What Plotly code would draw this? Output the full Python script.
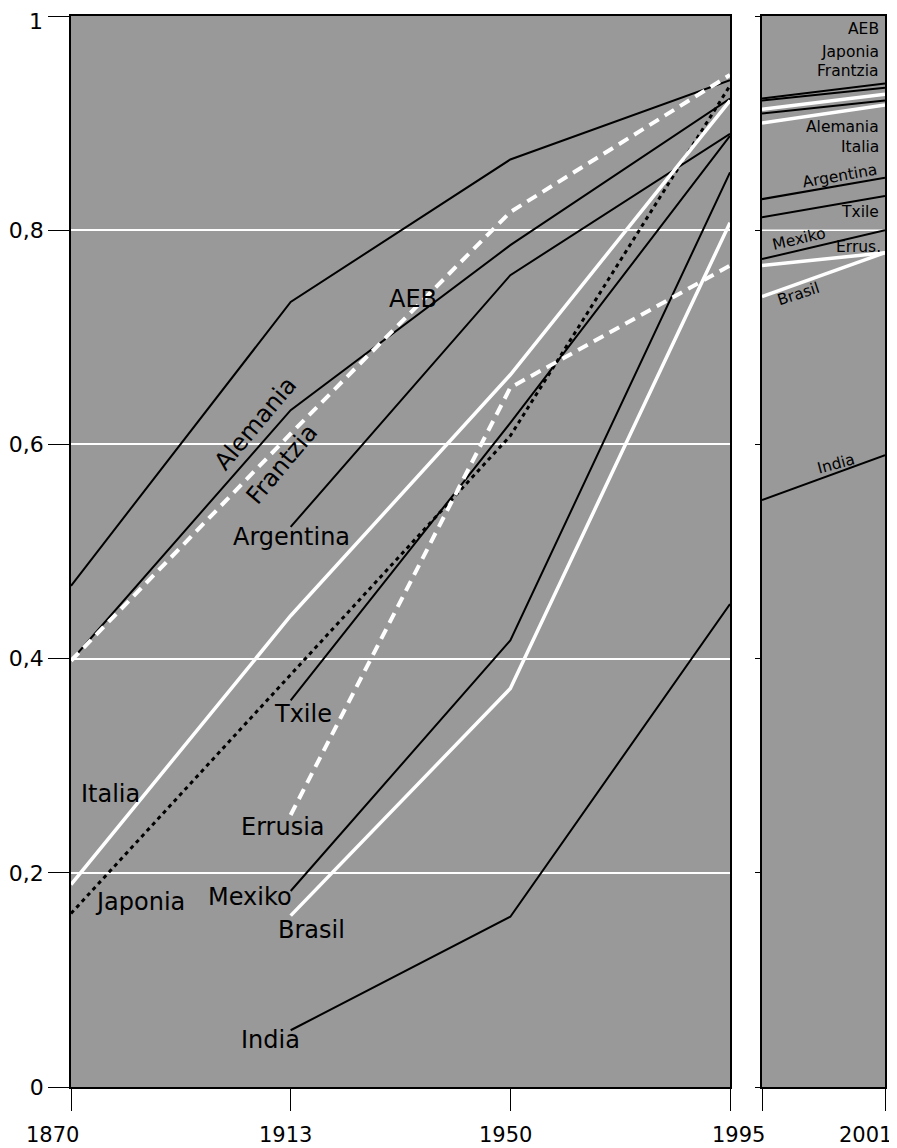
import plotly.graph_objects as go

# ---- data ----
years_left = ["1870", "1913", "1950", "1995"]
years_right = [1995, 2001]

aeb = [0.468, 0.733, 0.866, 0.940]
alemania = [0.398, 0.632, 0.786, 0.923]
frantzia = [0.398, 0.610, 0.817, 0.945]
italia = [0.189, 0.440, 0.665, 0.921]
japonia = [0.162, 0.385, 0.608, 0.935]
argentina = [None, 0.523, 0.758, 0.890]
txile = [None, 0.361, 0.620, 0.888]
errusia = [None, 0.254, 0.653, 0.767]
mexiko = [None, 0.183, 0.417, 0.854]
brasil = [None, 0.160, 0.372, 0.807]
india = [None, 0.053, 0.159, 0.451]

aeb_r = [0.923, 0.937]
japonia_r = [0.921, 0.933]
frantzia_r = [0.913, 0.927]
alemania_r = [0.909, 0.921]
italia_r = [0.900, 0.917]
argentina_r = [0.829, 0.849]
txile_r = [0.812, 0.832]
mexiko_r = [0.773, 0.800]
errusia_r = [0.767, 0.779]
brasil_r = [0.738, 0.779]
india_r = [0.548, 0.590]

y_tickvals = [0, 0.2, 0.4, 0.6, 0.8, 1]
y_ticktext = ["0", "0,2", "0,4", "0,6", "0,8", ""]
y_top_label = "1"

BG = "#999999"
FONT = "DejaVu Sans"

fig = go.Figure()

black = dict(color="black", width=2)
white = dict(color="white", width=3.5)
white_dash = dict(color="white", width=4, dash="11px,7px")
black_dot = dict(color="black", width=3, dash="4px,4px")

left_series = [
    (aeb, black), (alemania, black), (argentina, black), (txile, black),
    (mexiko, black), (india, black), (japonia, black_dot),
    (italia, white), (brasil, white), (frantzia, white_dash), (errusia, white_dash),
]
for vals, ln in left_series:
    xs = [x for x, v in zip(years_left, vals) if v is not None]
    ys = [v for v in vals if v is not None]
    fig.add_trace(go.Scatter(x=xs, y=ys, mode="lines", line=ln,
                             xaxis="x", yaxis="y", showlegend=False, hoverinfo="skip"))

right_series = [
    (aeb_r, "black", 2), (japonia_r, "black", 2), (alemania_r, "black", 2),
    (argentina_r, "black", 2), (txile_r, "black", 2), (mexiko_r, "black", 2),
    (india_r, "black", 2),
    (frantzia_r, "white", 3.5), (italia_r, "white", 3.5),
    (errusia_r, "white", 3.5), (brasil_r, "white", 3.5),
]
for vals, c, w in right_series:
    fig.add_trace(go.Scatter(x=years_right, y=vals, mode="lines",
                             line=dict(color=c, width=w),
                             xaxis="x2", yaxis="y2", showlegend=False, hoverinfo="skip"))

ann = []
def lab(text, x, y, ref="", size=24, angle=0, xanchor="center"):
    ann.append(dict(text=text, x=x, y=y, xref="x" + ref, yref="y" + ref,
                    showarrow=False, textangle=angle, xanchor=xanchor, yanchor="middle",
                    font=dict(family=FONT, size=size, color="black")))

lab("AEB", 1.557, 0.736)
lab("Alemania", 0.842, 0.620, angle=-50)
lab("Frantzia", 0.96, 0.582, angle=-50)
lab("Argentina", 1.006, 0.514)
lab("Txile", 1.056, 0.348)
lab("Errusia", 0.965, 0.243)
lab("Mexiko", 0.815, 0.177)
lab("Brasil", 1.093, 0.147)
lab("Italia", 0.178, 0.274)
lab("Japonia", 0.314, 0.173)
lab("India", 0.906, 0.044)

rs = 15.5
lab("AEB", 2000.8, 0.988, ref="2", size=rs, xanchor="right")
lab("Japonia", 2000.8, 0.966, ref="2", size=rs, xanchor="right")
lab("Frantzia", 2000.8, 0.949, ref="2", size=rs, xanchor="right")
lab("Alemania", 2000.8, 0.896, ref="2", size=rs, xanchor="right")
lab("Italia", 2000.8, 0.878, ref="2", size=rs, xanchor="right")
lab("Argentina", 1998.8, 0.851, ref="2", size=rs, angle=-10)
lab("Txile", 2000.8, 0.817, ref="2", size=rs, xanchor="right")
lab("Mexiko", 1996.8, 0.792, ref="2", size=rs, angle=-13)
lab("Errus.", 2000.9, 0.784, ref="2", size=rs, xanchor="right")
lab("Brasil", 1996.8, 0.740, ref="2", size=rs, angle=-18)
lab("India", 1998.6, 0.582, ref="2", size=rs, angle=-15)

# top y tick label, nudged slightly so it stays inside the page
ann.append(dict(text=y_top_label, x=0, y=1, xref="paper", yref="y", xanchor="right",
                yanchor="middle", xshift=-26, yshift=-5, showarrow=False,
                font=dict(family=FONT, size=22, color="black")))

# year labels below axis
year_font = dict(family=FONT, size=21, color="black")
year_shift = {"1870": -19, "1913": -5, "1950": -5, "1995": 8}
for i, yr in enumerate(years_left):
    ann.append(dict(text=yr, x=i, y=0, xref="x", yref="paper", yanchor="middle",
                    yshift=-48, xshift=year_shift[yr], showarrow=False, font=year_font))
ann.append(dict(text="2001", x=2001, y=0, xref="x2", yref="paper", yanchor="middle",
                yshift=-48, xshift=-20, showarrow=False, font=year_font))

# the page body adds an 8px offset; compensate so the plot lands where the reference has it
OFF = 8
W, H = 897 - OFF, 1148 - OFF
L, R, T, B = 71 - OFF, 12, 16 - OFF, 61
pw = W - L - R
d1 = (730 - 71) / pw
d2 = (762 - 71) / pw

fig.update_layout(
    width=W, height=H,
    margin=dict(l=L, r=R, t=T, b=B, autoexpand=False),
    paper_bgcolor="white",
    plot_bgcolor=BG,
    annotations=ann,
    shapes=[dict(type="line", xref="x2 domain", yref="y2", x0=0, x1=1, y0=0.8, y1=0.8,
                 line=dict(color="white", width=1.5), layer="below")],
    xaxis=dict(domain=[0, d1], type="category", categoryorder="array",
               categoryarray=years_left, range=[0, 3], automargin=False,
               showgrid=False, zeroline=False, showline=True, linecolor="black",
               linewidth=1.5, mirror=True, ticks="outside", ticklen=22,
               tickcolor="black", tickwidth=1, showticklabels=False),
    yaxis=dict(range=[0, 1], tickvals=y_tickvals, ticktext=y_ticktext, automargin=False,
               showgrid=True, gridcolor="white", gridwidth=1.5, zeroline=False,
               showline=True, linecolor="black", linewidth=1.5, mirror=True,
               ticks="outside", ticklen=21, tickcolor="black", tickwidth=1,
               tickfont=dict(family=FONT, size=22, color="black")),
    xaxis2=dict(domain=[d2, 1], range=[1995, 2001], anchor="y2", automargin=False,
                tickvals=years_right, showgrid=False, zeroline=False,
                showline=True, linecolor="black", linewidth=2, mirror=True,
                ticks="outside", ticklen=22, tickcolor="black", tickwidth=1,
                showticklabels=False),
    yaxis2=dict(range=[0, 1], anchor="x2", tickvals=y_tickvals, automargin=False,
                showgrid=False, zeroline=False, showline=True, linecolor="black",
                linewidth=2, mirror=True, ticks="outside", ticklen=5,
                tickcolor="black", showticklabels=False),
)

fig.write_html("out.html")
